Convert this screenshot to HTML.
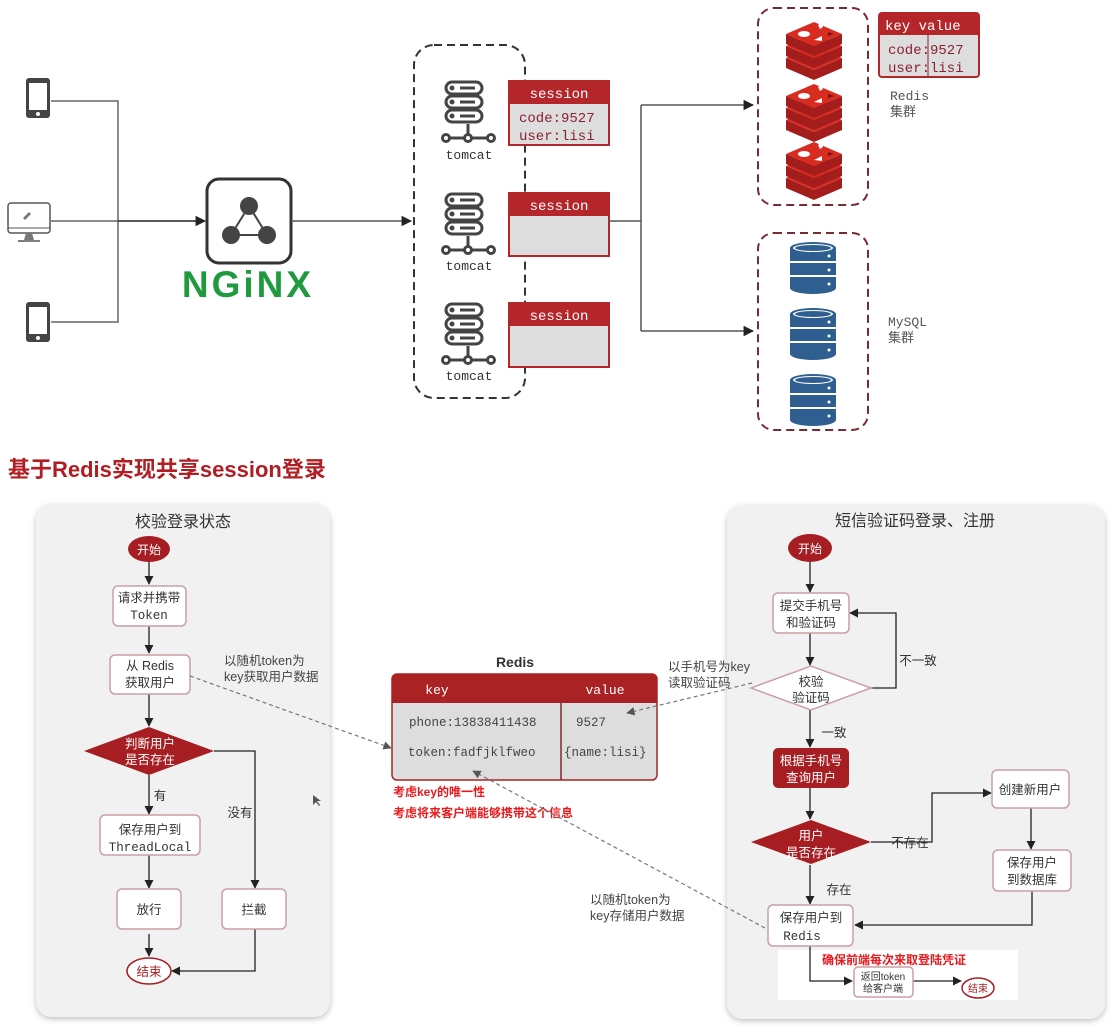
<!DOCTYPE html>
<html><head><meta charset="utf-8">
<style>
html,body{margin:0;padding:0;background:#fff;}
svg{display:block;}
text{font-family:"Liberation Sans","Noto Sans CJK SC",sans-serif;}
.m{font-family:"Liberation Mono","Noto Sans CJK SC",monospace;}
</style></head>
<body>
<svg width="1118" height="1034" viewBox="0 0 1118 1034" xmlns="http://www.w3.org/2000/svg">
<defs>
<marker id="ar" viewBox="0 0 10 10" refX="9" refY="5" markerWidth="7" markerHeight="7" orient="auto"><path d="M0,0 L10,5 L0,10 z" fill="#222"/></marker>
<marker id="ag" viewBox="0 0 10 10" refX="9" refY="5" markerWidth="7" markerHeight="7" orient="auto"><path d="M0,0 L10,5 L0,10 z" fill="#555"/></marker>
<g id="phone"><rect x="0" y="0" width="24" height="40" rx="3" fill="#444"/><rect x="3" y="5" width="18" height="27" fill="#fff"/><circle cx="12" cy="36" r="2" fill="#fff"/></g>
<g id="tomcat" fill="none" stroke="#444" stroke-width="3">
<rect x="446" y="2" width="36" height="12" rx="6"/><rect x="446" y="16" width="36" height="12" rx="6"/><rect x="446" y="30" width="36" height="12" rx="6"/>
<circle cx="452" cy="8" r="1" fill="#444"/><circle cx="452" cy="22" r="1" fill="#444"/><circle cx="452" cy="36" r="1" fill="#444"/>
<line x1="460" y1="8" x2="475" y2="8"/><line x1="460" y1="22" x2="475" y2="22"/><line x1="460" y1="36" x2="475" y2="36"/>
<line x1="449" y1="58" x2="488" y2="58"/><line x1="468" y1="44" x2="468" y2="54"/>
<circle cx="446" cy="58" r="3.5" fill="#fff"/><circle cx="468" cy="58" r="3.5" fill="#fff"/><circle cx="491" cy="58" r="3.5" fill="#fff"/>
</g>
<g id="redis">
<polygon points="-28,36 0,48 28,36 28,46 0,58 -28,46" fill="#a41d1d"/>
<polygon points="-28,36 0,24 28,36 0,48" fill="#d82c20"/>
<polygon points="-28,24 0,36 28,24 28,34 0,46 -28,34" fill="#a41d1d"/>
<polygon points="-28,24 0,12 28,24 0,36" fill="#d82c20"/>
<polygon points="-28,12 0,24 28,12 28,22 0,34 -28,22" fill="#a41d1d"/>
<polygon points="-28,12 0,0 28,12 0,24" fill="#d82c20"/>
<ellipse cx="-10" cy="12" rx="6" ry="3" fill="#fff"/><polygon points="4,3 8,1 9,5 6,7" fill="#fff"/><polygon points="0,18 8,14 8,19" fill="#fff"/><polygon points="14,10 20,12 14,14" fill="#7a1414"/>
</g>
<g id="db" fill="#2f5f90">
<path d="M-23,6 a23,6 0 0 1 46,0 v40 a23,6 0 0 1 -46,0z"/>
<ellipse cx="0" cy="6" rx="20" ry="4" fill="#fff"/><ellipse cx="0" cy="6" rx="18" ry="3" fill="#2f5f90"/>
<line x1="-23" y1="20" x2="23" y2="20" stroke="#fff" stroke-width="2"/><line x1="-23" y1="34" x2="23" y2="34" stroke="#fff" stroke-width="2"/>
<circle cx="16" cy="14" r="1.5" fill="#fff"/><circle cx="16" cy="28" r="1.5" fill="#fff"/><circle cx="16" cy="42" r="1.5" fill="#fff"/>
</g>
<filter id="sh" x="-5%" y="-5%" width="110%" height="110%"><feDropShadow dx="0" dy="2" stdDeviation="3" flood-color="#000" flood-opacity="0.25"/></filter>
</defs>

<!-- TOP -->
<use href="#phone" x="26" y="78"/>
<use href="#phone" x="26" y="302"/>
<g>
<rect x="8" y="203" width="42" height="30" rx="3" fill="#fff" stroke="#555" stroke-width="1.5"/>
<line x1="8" y1="228" x2="50" y2="228" stroke="#555"/>
<path d="M24,240 h10 l-2,-7 h-6z" fill="#777"/><line x1="18" y1="241" x2="40" y2="241" stroke="#555" stroke-width="1.5"/>
<path d="M23,218 l6,-6 l2,2 l-6,6z" fill="#777"/>
</g>
<g stroke="#666" stroke-width="1.5" fill="none">
<polyline points="51,101 118,101 118,322 51,322"/>
<line x1="51" y1="221" x2="118" y2="221"/>
</g>
<line x1="118" y1="221" x2="205" y2="221" stroke="#222" stroke-width="1.5" marker-end="url(#ar)"/>
<rect x="207" y="179" width="84" height="84" rx="12" fill="#fff" stroke="#333" stroke-width="3"/>
<g stroke="#444" stroke-width="2"><line x1="249" y1="206" x2="231" y2="235"/><line x1="249" y1="206" x2="267" y2="235"/><line x1="231" y1="235" x2="267" y2="235"/></g>
<circle cx="249" cy="206" r="9" fill="#444"/><circle cx="231" cy="235" r="9" fill="#444"/><circle cx="267" cy="235" r="9" fill="#444"/>
<text x="248" y="297" text-anchor="middle" font-size="37" font-weight="bold" fill="#1f9a3e" letter-spacing="3">NGiNX</text>
<line x1="291" y1="221" x2="411" y2="221" stroke="#555" stroke-width="1.5" marker-end="url(#ar)"/>

<rect x="414" y="45" width="111" height="353" rx="20" fill="none" stroke="#333" stroke-width="2" stroke-dasharray="8,5"/>
<use href="#tomcat" x="0" y="80"/><text x="469" y="159" text-anchor="middle" font-size="13" class="m" fill="#333">tomcat</text>
<use href="#tomcat" x="0" y="192"/><text x="469" y="270" text-anchor="middle" font-size="13" class="m" fill="#333">tomcat</text>
<use href="#tomcat" x="0" y="302"/><text x="469" y="380" text-anchor="middle" font-size="13" class="m" fill="#333">tomcat</text>

<g>
<rect x="509" y="81" width="100" height="64" fill="#ddd" stroke="#b5262b" stroke-width="2"/><rect x="509" y="81" width="100" height="23" fill="#b5262b"/>
<text x="559" y="98" text-anchor="middle" font-size="14" class="m" fill="#fff">session</text>
<text x="519" y="122" font-size="14" class="m" fill="#8b2030">code:9527</text>
<text x="519" y="140" font-size="14" class="m" fill="#8b2030">user:lisi</text>
<rect x="509" y="193" width="100" height="63" fill="#ddd" stroke="#b5262b" stroke-width="2"/><rect x="509" y="193" width="100" height="23" fill="#b5262b"/>
<text x="559" y="210" text-anchor="middle" font-size="14" class="m" fill="#fff">session</text>
<rect x="509" y="303" width="100" height="64" fill="#ddd" stroke="#b5262b" stroke-width="2"/><rect x="509" y="303" width="100" height="23" fill="#b5262b"/>
<text x="559" y="320" text-anchor="middle" font-size="14" class="m" fill="#fff">session</text>
</g>
<g stroke="#555" stroke-width="1.5" fill="none">
<line x1="609" y1="221" x2="641" y2="221"/>
<line x1="641" y1="105" x2="641" y2="331"/>
</g>
<line x1="641" y1="105" x2="753" y2="105" stroke="#555" stroke-width="1.5" marker-end="url(#ar)"/>
<line x1="641" y1="331" x2="753" y2="331" stroke="#555" stroke-width="1.5" marker-end="url(#ar)"/>

<rect x="758" y="8" width="110" height="197" rx="16" fill="none" stroke="#7a2a30" stroke-width="2" stroke-dasharray="8,5"/>
<use href="#redis" x="814" y="22"/><use href="#redis" x="814" y="84"/><use href="#redis" x="814" y="142"/>
<rect x="879" y="13" width="100" height="64" rx="3" fill="#ddd" stroke="#b5262b" stroke-width="2"/>
<rect x="879" y="13" width="100" height="22" fill="#b5262b"/>
<line x1="928" y1="35" x2="928" y2="77" stroke="#8b2030"/>
<text x="885" y="30" font-size="14" class="m" fill="#fff">key  value</text>
<text x="888" y="54" font-size="14" class="m" fill="#8b2030">code:9527</text>
<text x="888" y="72" font-size="14" class="m" fill="#8b2030">user:lisi</text>
<text x="890" y="100" font-size="13" class="m" fill="#555">Redis</text>
<text x="890" y="116" font-size="13" fill="#555">集群</text>

<rect x="758" y="233" width="110" height="197" rx="16" fill="none" stroke="#7a2a30" stroke-width="2" stroke-dasharray="8,5"/>
<use href="#db" x="813" y="242"/><use href="#db" x="813" y="308"/><use href="#db" x="813" y="374"/>
<text x="888" y="326" font-size="13" class="m" fill="#555">MySQL</text>
<text x="888" y="342" font-size="13" fill="#555">集群</text>

<text x="8" y="477" font-size="22" font-weight="bold" fill="#b01e23">基于Redis实现共享session登录</text>

<!-- LEFT PANEL -->
<rect x="36" y="504" width="294" height="513" rx="16" fill="#f1f1f1" filter="url(#sh)"/>
<text x="183" y="527" text-anchor="middle" font-size="16" fill="#333">校验登录状态</text>
<ellipse cx="149" cy="549" rx="21" ry="13" fill="#a61e22"/>
<text x="149" y="554" text-anchor="middle" font-size="12" fill="#fff">开始</text>
<g stroke="#222" stroke-width="1.3" fill="none">
<line x1="149" y1="562" x2="149" y2="584" marker-end="url(#ar)"/>
<line x1="149" y1="626" x2="149" y2="653" marker-end="url(#ar)"/>
<line x1="149" y1="694" x2="149" y2="726" marker-end="url(#ar)"/>
<line x1="149" y1="775" x2="149" y2="814" marker-end="url(#ar)"/>
<line x1="149" y1="855" x2="149" y2="888" marker-end="url(#ar)"/>
<line x1="149" y1="934" x2="149" y2="956" marker-end="url(#ar)"/>
<polyline points="214,751 255,751 255,888" marker-end="url(#ar)"/>
<polyline points="255,929 255,971 172,971" marker-end="url(#ar)"/>
</g>
<g fill="#fff" stroke="#c9a0a4" stroke-width="1.5">
<rect x="113" y="586" width="73" height="40" rx="5"/>
<rect x="110" y="655" width="80" height="39" rx="5"/>
<rect x="100" y="815" width="100" height="40" rx="5"/>
<rect x="117" y="889" width="64" height="40" rx="5"/>
<rect x="222" y="889" width="64" height="40" rx="5"/>
</g>
<polygon points="84,751 149,727 214,751 149,775" fill="#a61e22"/>
<ellipse cx="149" cy="971" rx="22" ry="13" fill="#fff" stroke="#a61e22" stroke-width="1.5"/>
<g font-size="12.5" fill="#333" text-anchor="middle">
<text x="149" y="602">请求并携带</text><text x="149" y="619" class="m">Token</text>
<text x="150" y="670">从 Redis</text><text x="150" y="687">获取用户</text>
<text x="150" y="748" fill="#fff">判断用户</text><text x="150" y="764" fill="#fff">是否存在</text>
<text x="150" y="834">保存用户到</text><text x="150" y="851" class="m">ThreadLocal</text>
<text x="149" y="914">放行</text><text x="254" y="914">拦截</text>
<text x="149" y="976" fill="#a61e22">结束</text>
<text x="160" y="800">有</text><text x="240" y="817">没有</text>
</g>
<text x="224" y="665" font-size="12.5" fill="#444">以随机token为</text>
<text x="224" y="681" font-size="12.5" fill="#444">key获取用户数据</text>
<path d="M313,795 l0,10 l3,-3 l3,4 l1,-1 l-3,-4 l4,0z" fill="#555"/>

<!-- RIGHT PANEL -->
<rect x="727" y="505" width="378" height="514" rx="16" fill="#f1f1f1" filter="url(#sh)"/>
<text x="915" y="526" text-anchor="middle" font-size="16" fill="#333">短信验证码登录、注册</text>
<rect x="778" y="950" width="240" height="50" fill="#fff"/>
<ellipse cx="810" cy="548" rx="22" ry="14" fill="#a61e22"/>
<text x="810" y="553" text-anchor="middle" font-size="12" fill="#fff">开始</text>
<g stroke="#222" stroke-width="1.3" fill="none">
<line x1="810" y1="562" x2="810" y2="592" marker-end="url(#ar)"/>
<line x1="810" y1="633" x2="810" y2="665" marker-end="url(#ar)"/>
<polyline points="871,688 896,688 896,613 850,613" marker-end="url(#ar)"/>
<line x1="810" y1="710" x2="810" y2="747" marker-end="url(#ar)"/>
<line x1="810" y1="788" x2="810" y2="819" marker-end="url(#ar)"/>
<polyline points="871,842 932,842 932,793 991,793" marker-end="url(#ar)"/>
<line x1="1031" y1="808" x2="1031" y2="849" marker-end="url(#ar)"/>
<polyline points="1032,891 1032,925 855,925" marker-end="url(#ar)"/>
<line x1="810" y1="865" x2="810" y2="904" marker-end="url(#ar)"/>
<polyline points="810,946 810,981 852,981" marker-end="url(#ar)"/>
<line x1="912" y1="981" x2="961" y2="981" marker-end="url(#ar)"/>
</g>
<g fill="#fff" stroke="#c9a0a4" stroke-width="1.5">
<rect x="773" y="593" width="76" height="40" rx="5"/>
<rect x="992" y="770" width="77" height="38" rx="5"/>
<rect x="993" y="850" width="78" height="41" rx="5"/>
<rect x="768" y="905" width="85" height="41" rx="5"/>
<rect x="854" y="967" width="59" height="30" rx="4"/>
</g>
<polygon points="751,688 811,666 871,688 811,710" fill="#fff" stroke="#c9a0a4" stroke-width="1.5"/>
<rect x="773" y="748" width="76" height="40" rx="5" fill="#a61e22"/>
<polygon points="751,842 811,820 871,842 811,864" fill="#a61e22"/>
<ellipse cx="978" cy="988" rx="16" ry="10" fill="#fff" stroke="#a61e22" stroke-width="1.5"/>
<g font-size="12.5" fill="#333" text-anchor="middle">
<text x="811" y="610">提交手机号</text><text x="811" y="627">和验证码</text>
<text x="811" y="686">校验</text><text x="811" y="702">验证码</text>
<text x="811" y="765" fill="#fff">根据手机号</text><text x="811" y="782" fill="#fff">查询用户</text>
<text x="811" y="840" fill="#fff">用户</text><text x="811" y="857" fill="#fff">是否存在</text>
<text x="1030" y="794">创建新用户</text>
<text x="1032" y="867">保存用户</text><text x="1032" y="884">到数据库</text>
<text x="811" y="922">保存用户到</text><text x="802" y="940" class="m">Redis</text>
<text x="918" y="665">不一致</text><text x="834" y="737">一致</text>
<text x="910" y="847">不存在</text><text x="839" y="894">存在</text>
<text x="883" y="980" font-size="10">返回token</text><text x="883" y="992" font-size="10">给客户端</text>
<text x="978" y="992" font-size="10" fill="#a61e22">结束</text>
</g>
<text x="822" y="964" font-size="12" font-weight="bold" fill="#e8191c">确保前端每次来取登陆凭证</text>

<!-- CENTER (on top) -->
<text x="515" y="667" text-anchor="middle" font-size="14" font-weight="bold" fill="#333">Redis</text>
<rect x="392" y="674" width="265" height="106" rx="5" fill="#ddd" stroke="#a82528" stroke-width="1.5"/>
<path d="M392,703 v-24 a5,5 0 0 1 5,-5 h255 a5,5 0 0 1 5,5 v24z" fill="#ab2225"/>
<line x1="561" y1="703" x2="561" y2="780" stroke="#7a2a30" stroke-width="1.5"/>
<text x="437" y="694" text-anchor="middle" font-size="13" class="m" fill="#fff">key</text>
<text x="605" y="694" text-anchor="middle" font-size="13" class="m" fill="#fff">value</text>
<text x="409" y="726" font-size="12.5" class="m" fill="#444">phone:13838411438</text>
<text x="408" y="756" font-size="12.5" class="m" fill="#444">token:fadfjklfweo</text>
<text x="576" y="726" font-size="12.5" class="m" fill="#444">9527</text>
<text x="564" y="756" font-size="12.5" class="m" fill="#444">{name:lisi}</text>
<text x="393" y="796" font-size="12" font-weight="bold" fill="#e8191c">考虑key的唯一性</text>
<text x="393" y="817" font-size="12" font-weight="bold" fill="#e8191c">考虑将来客户端能够携带这个信息</text>
<g stroke="#777" stroke-width="1.2" fill="none" stroke-dasharray="4,3">
<line x1="190" y1="676" x2="391" y2="748" marker-end="url(#ag)"/>
<line x1="752" y1="683" x2="627" y2="713" marker-end="url(#ag)"/>
<line x1="765" y1="928" x2="473" y2="771" marker-end="url(#ag)"/>
</g>
<text x="668" y="671" font-size="12.5" fill="#444">以手机号为key</text>
<text x="668" y="687" font-size="12.5" fill="#444">读取验证码</text>
<text x="590" y="904" font-size="12.5" fill="#444">以随机token为</text>
<text x="590" y="920" font-size="12.5" fill="#444">key存储用户数据</text>
</svg>
</body></html>
